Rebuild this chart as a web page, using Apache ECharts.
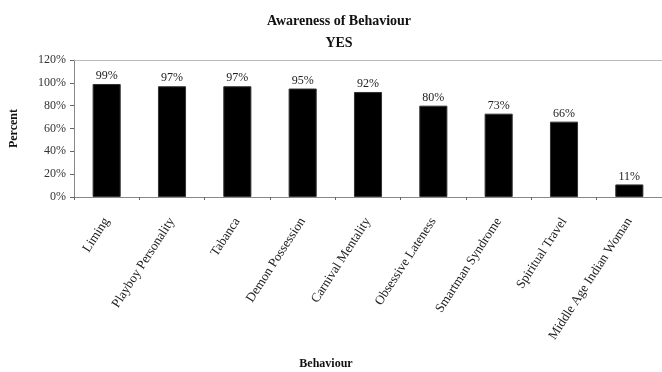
<!DOCTYPE html>
<html>
<head>
<meta charset="utf-8">
<script src="https://cdn.jsdelivr.net/npm/echarts@6/dist/echarts.min.js"></script>
<style>
  html, body { margin: 0; padding: 0; background: #fff; }
  #chart { width: 662px; height: 372px; }
</style>
</head>
<body>
<div id="chart"></div>
<script>
// categories and percentages
const behaviours = ['Liming', 'Playboy Personality', 'Tabanca', 'Demon Possession', 'Carnival Mentality',
  'Obsessive Lateness', 'Smartman Syndrome', 'Spiritual Travel', 'Middle Age Indian Woman']
const yesPercent = [99, 97, 97, 95, 92, 80, 73, 66, 11]
const yTicks = [0, 20, 40, 60, 80, 100, 120]

const serif = '"Liberation Serif", "DejaVu Serif", serif'

const option = {
  animation: false,
  title: {
    text: 'Awareness of Behaviour\nYES',
    left: 334,
    top: 5,
    textAlign: 'center',
    textStyle: { fontFamily: serif, fontSize: 14, fontWeight: 'bold', color: '#111', lineHeight: 22 }
  },
  grid: { left: 72, right: -1, top: 60, bottom: 175 },
  xAxis: [
    {
      type: 'category',
      data: behaviours,
      name: 'Behaviour',
      nameLocation: 'middle',
      nameGap: 161,
      nameTextStyle: { fontFamily: serif, fontSize: 12, fontWeight: 'bold', color: '#111', padding: [0, 84, 0, 0] },
      axisLine: { lineStyle: { color: '#888' } },
      axisTick: { show: true, alignWithLabel: false, length: 3, lineStyle: { color: '#666' } },
      axisLabel: { rotate: 57, margin: 22, interval: 0, fontFamily: serif, fontSize: 13, color: '#222' }
    },
    {
      // top border of the plot area
      type: 'category',
      data: behaviours,
      position: 'top',
      axisLine: { show: true, lineStyle: { color: '#bbb' } },
      axisTick: { show: false },
      axisLabel: { show: false }
    }
  ],
  yAxis: {
    type: 'value',
    min: yTicks[0],
    max: yTicks[yTicks.length - 1],
    interval: 20,
    name: 'Percent',
    nameLocation: 'middle',
    nameGap: 54,
    nameRotate: 90,
    nameTextStyle: { fontFamily: serif, fontSize: 12, fontWeight: 'bold', color: '#111' },
    axisLine: { show: true, lineStyle: { color: '#888' } },
    axisTick: { show: true, length: 4, lineStyle: { color: '#666' } },
    splitLine: { show: false },
    axisLabel: { formatter: '{value}%', fontFamily: serif, fontSize: 12, color: '#333', margin: 8 }
  },
  series: [{
    name: 'YES',
    type: 'bar',
    data: yesPercent,
    barWidth: '43%',
    itemStyle: { color: '#000', borderColor: '#333', borderWidth: 1 },
    label: {
      show: true,
      position: 'top',
      distance: 2,
      formatter: '{c}%',
      fontFamily: serif,
      fontSize: 12,
      color: '#222'
    }
  }]
}

const chart = echarts.init(document.getElementById('chart'))
chart.setOption(option)
</script>
</body>
</html>
